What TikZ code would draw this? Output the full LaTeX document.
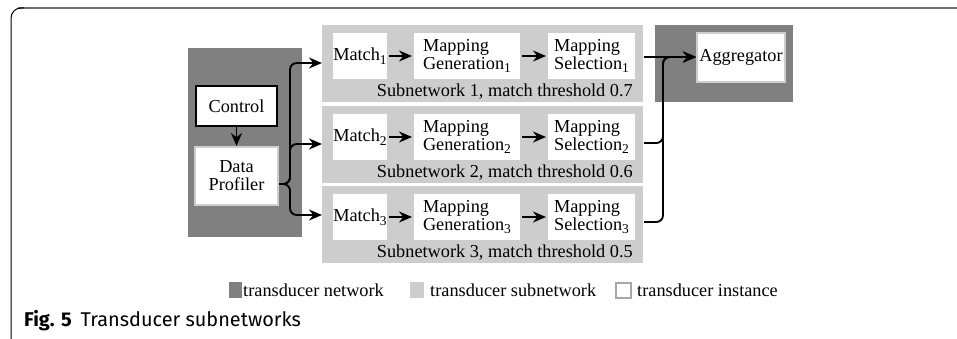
\documentclass[tikz,border=0pt]{standalone}
\usepackage{fontspec}
\setmainfont{Liberation Serif}
\newfontfamily\capfont{Fira Sans}
\usetikzlibrary{arrows.meta}

\definecolor{netgray}{HTML}{808080}
\definecolor{subgray}{HTML}{CDCDCD}
\definecolor{instgray}{HTML}{CDCDCD}
\definecolor{framegray}{HTML}{6E6E6E}
\newcommand\diagfont{\fontsize{15.6}{15.2}\selectfont}
\newcommand\idx[1]{\raisebox{-0.45ex}{\fontsize{11.5}{11.5}\selectfont #1}}

\tikzset{
  instance/.style={fill=white, draw=instgray, line width=0.6mm, inner sep=0pt,
    font=\diagfont},
  wire/.style={line width=0.55mm, rounded corners=2mm,
    -{Stealth[length=3.9mm,width=3.3mm]}},
  legtext/.style={anchor=west, inner sep=0pt, font=\diagfont},
}

\begin{document}
\begin{tikzpicture}[x=0.3mm,y=-0.3mm]
  \useasboundingbox (0,0) rectangle (957,339);
  % frame of the figure
  \draw[framegray, line width=0.6mm] (18,8) -- (957,8);
  \draw[line width=0.3mm, rounded corners=3mm] (11,339) -- (11,8) -- (24,8);

  % transducer networks
  \fill[netgray] (188,48) rectangle (302,237);
  \fill[netgray] (655,25) rectangle (793,102);

  \node[fill=white, draw=black, line width=0.45mm, minimum width=24.3mm,
    minimum height=12mm, inner sep=0pt, font=\diagfont] (control) at (236.5,106) {Control};
  \node[instance, minimum width=24.9mm, minimum height=17.4mm, align=center]
    (profiler) at (236.5,176) {Data\\Profiler};
  \node[instance, minimum width=26.4mm, minimum height=14.7mm]
    (agg) at (741,57.5) {Aggregator};
  \draw[wire] (control) -- (profiler);

  % subnetworks
  \coordinate (fork) at (290,184);
  \coordinate (join) at (663,57);
  \foreach \i/\y/\th/\ia/\ob in {1/25/0.7/63/57, 2/106/0.6/144/143, 3/186/0.5/215/222} {
    \fill[subgray] (322,\y) rectangle (643,\y+77);
    \node[instance, minimum width=16.8mm, minimum height=14.4mm]
      (match\i) at (360,\y+31) {Match\idx{\i}};
    \node[instance, minimum width=32.4mm, minimum height=14.4mm, align=left]
      (gen\i) at (467,\y+31) {Mapping\\Generation\idx{\i}};
    \node[instance, minimum width=26.7mm, minimum height=14.4mm, align=left]
      (sel\i) at (591.5,\y+31) {Mapping\\Selection\idx{\i}};
    \node[anchor=east, inner sep=0pt, font=\diagfont]
      (label\i) at (633,\y+67) {Subnetwork \i, match threshold \th};
    \coordinate (in\i) at (322,\ia);
    \coordinate (out\i) at (644,\ob);
    \draw[wire] (match\i) -- (gen\i);
    \draw[wire] (gen\i) -- (sel\i);
    \draw[wire] (profiler.east |- fork) -- (fork) |- (in\i);
  }
  \draw[wire] (out1) -- (agg.west |- out1);
  \draw[wire] (out2) -| (join) -- (agg.west |- join);
  \draw[wire] (out3) -| (join) -- (agg.west |- join);

  % legend
  \node[fill=netgray, minimum width=3.9mm, minimum height=4.8mm, inner sep=0pt]
    (keynet) at (235.5,290) {};
  \node[legtext] (txtnet) at (243,290) {transducer network};
  \node[fill=subgray, minimum width=4.2mm, minimum height=4.8mm, inner sep=0pt]
    (keysub) at (417,290) {};
  \node[legtext] (txtsub) at (430,290) {transducer subnetwork};
  \node[fill=white, draw=black!35, line width=0.6mm, minimum width=4.5mm,
    minimum height=4.5mm, inner sep=0pt] (keyinst) at (623.5,290) {};
  \node[legtext] (txtinst) at (637,290) {transducer instance};

  % caption
  \node[anchor=west, inner sep=0pt, font=\capfont\fontsize{17}{20}\selectfont]
    (caption) at (24,321) {\textbf{Fig. 5}\hspace{0.45em}Transducer subnetworks};
\end{tikzpicture}
\end{document}
